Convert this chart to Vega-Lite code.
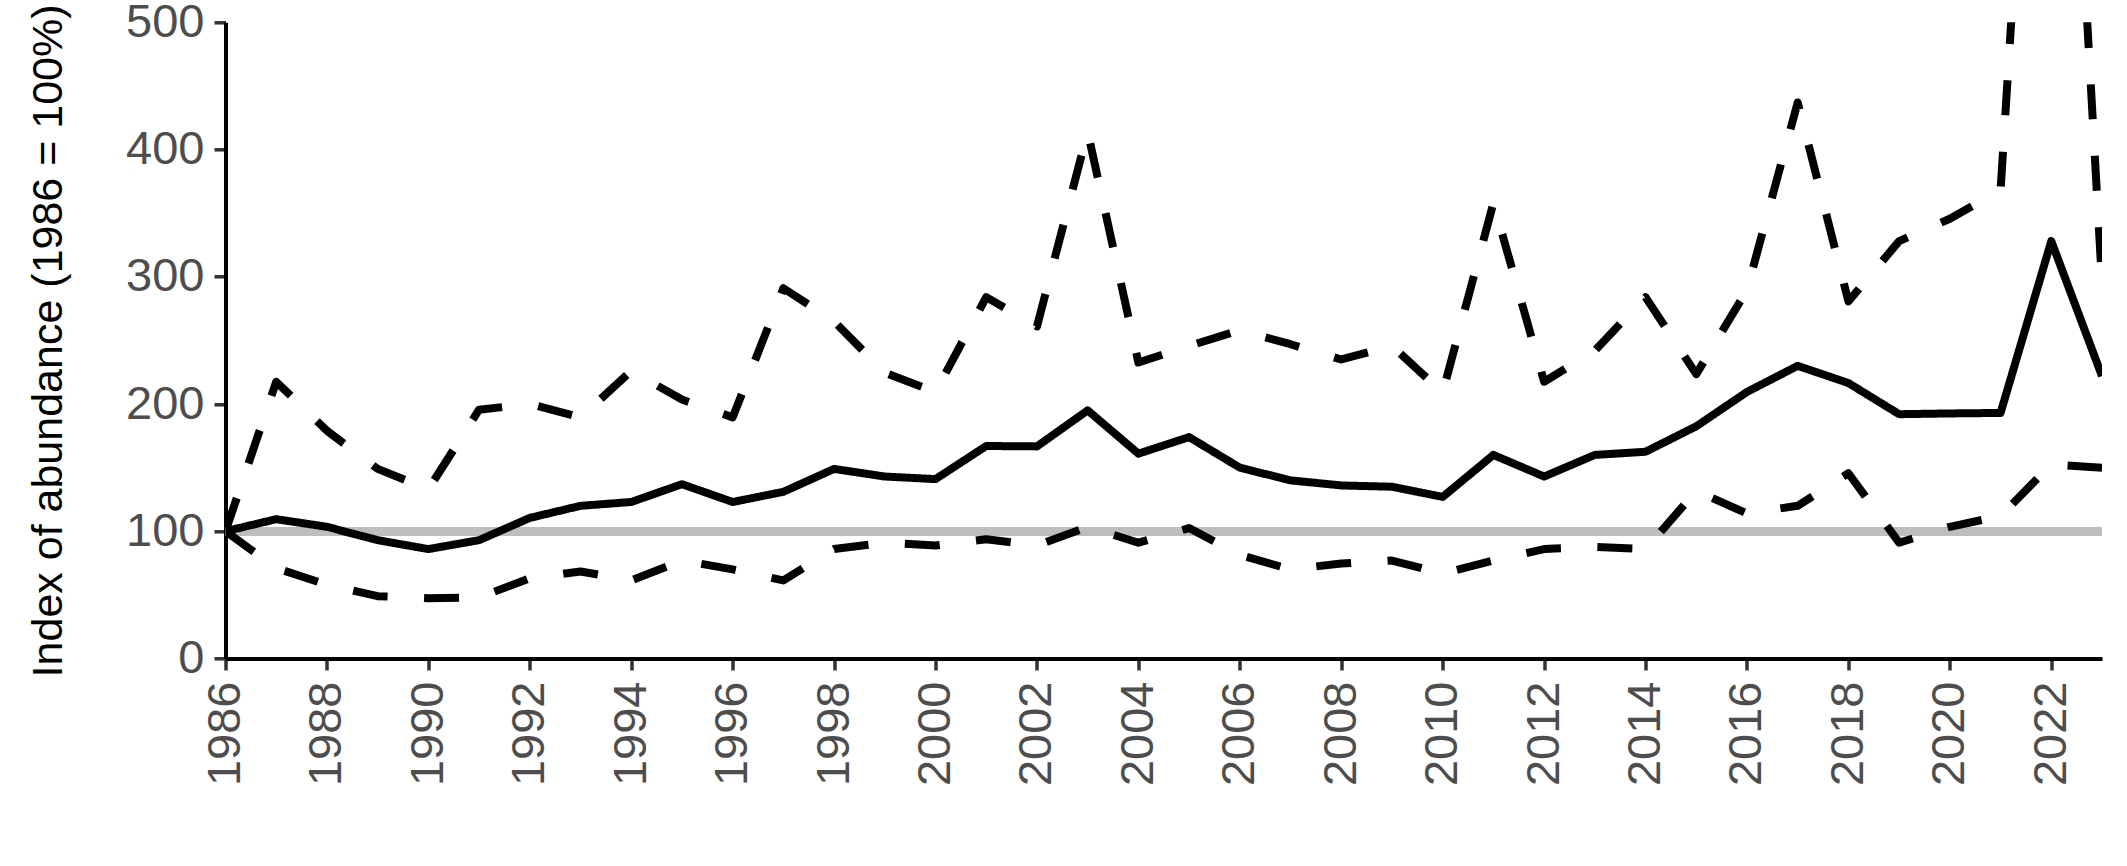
{
  "$schema": "https://vega.github.io/schema/vega-lite/v6.json",
  "width": 1876.5,
  "height": 636.2,
  "autosize": {"type": "none"},
  "padding": {"left": 225.5, "top": 22.3, "right": 25, "bottom": 207.5},
  "background": "white",
  "config": {"view": {"stroke": null}, "font": "Liberation Sans"},
  "data": {
    "values": [
      {"year": 1986, "index": 100, "lower": 100, "upper": 100},
      {"year": 1987, "index": 109.5, "lower": 71, "upper": 217.5},
      {"year": 1988, "index": 103.5, "lower": 58, "upper": 179},
      {"year": 1989, "index": 93, "lower": 49, "upper": 149},
      {"year": 1990, "index": 86, "lower": 47.4, "upper": 133},
      {"year": 1991, "index": 93, "lower": 48, "upper": 195.5},
      {"year": 1992, "index": 110.5, "lower": 63, "upper": 200},
      {"year": 1993, "index": 120, "lower": 68.4, "upper": 189.5},
      {"year": 1994, "index": 123, "lower": 61.4, "upper": 226},
      {"year": 1995, "index": 137, "lower": 77, "upper": 203.5},
      {"year": 1996, "index": 123, "lower": 70, "upper": 189.5},
      {"year": 1997, "index": 131, "lower": 61.4, "upper": 291},
      {"year": 1998, "index": 149, "lower": 86, "upper": 265},
      {"year": 1999, "index": 143, "lower": 91, "upper": 224.5},
      {"year": 2000, "index": 141, "lower": 88.8, "upper": 209.5},
      {"year": 2001, "index": 167, "lower": 93.7, "upper": 284},
      {"year": 2002, "index": 166.7, "lower": 88.8, "upper": 261},
      {"year": 2003, "index": 195, "lower": 103.5, "upper": 414},
      {"year": 2004, "index": 161, "lower": 91, "upper": 232.6},
      {"year": 2005, "index": 174, "lower": 102.5, "upper": 245.6},
      {"year": 2006, "index": 150, "lower": 81.4, "upper": 258},
      {"year": 2007, "index": 140, "lower": 70, "upper": 247},
      {"year": 2008, "index": 136, "lower": 74.7, "upper": 235},
      {"year": 2009, "index": 135, "lower": 77, "upper": 245.6},
      {"year": 2010, "index": 127, "lower": 66.7, "upper": 209},
      {"year": 2011, "index": 160, "lower": 77, "upper": 358},
      {"year": 2012, "index": 143, "lower": 86, "upper": 217.5},
      {"year": 2013, "index": 160, "lower": 87.7, "upper": 242},
      {"year": 2014, "index": 162.5, "lower": 86, "upper": 284},
      {"year": 2015, "index": 182.5, "lower": 131.6, "upper": 223.5},
      {"year": 2016, "index": 209.5, "lower": 114, "upper": 289.5},
      {"year": 2017, "index": 230, "lower": 120, "upper": 437},
      {"year": 2018, "index": 216.5, "lower": 145.6, "upper": 280.7},
      {"year": 2019, "index": 192, "lower": 91, "upper": 328},
      {"year": 2020, "index": 192.6, "lower": 103.5, "upper": 345.6},
      {"year": 2021, "index": 193, "lower": 112, "upper": 368},
      {"year": 2022, "index": 328, "lower": 152.6, "upper": 1000},
      {"year": 2023, "index": 222, "lower": 150, "upper": 295}
    ]
  },
  "layer": [
    {
      "mark": {"type": "rule", "color": "#BEBEBE", "strokeWidth": 8.3},
      "encoding": {
        "y": {"datum": 100, "type": "quantitative", "scale": {"domain": [0, 500], "nice": false, "zero": true}}
      }
    },
    {
      "transform": [{"fold": ["index", "lower", "upper"], "as": ["series", "value"]}],
      "mark": {"type": "line", "color": "black", "strokeWidth": 8, "strokeCap": "butt", "strokeJoin": "round", "clip": true},
      "encoding": {
        "x": {
          "field": "year",
          "type": "quantitative",
          "scale": {"domain": [1986, 2023], "nice": false, "zero": false},
          "axis": {
            "values": [1986, 1988, 1990, 1992, 1994, 1996, 1998, 2000, 2002, 2004, 2006, 2008, 2010, 2012, 2014, 2016, 2018, 2020, 2022],
            "format": "d",
            "labelAngle": 270,
            "labelFontSize": 47,
            "labelColor": "#4D4D4D",
            "labelPadding": 11,
            "labelFlush": false,
            "labelOverlap": false,
            "tickColor": "#333333",
            "tickWidth": 3.5,
            "tickSize": 11.5,
            "domainColor": "black",
            "domainWidth": 4,
            "grid": false,
            "title": null
          }
        },
        "y": {
          "field": "value",
          "type": "quantitative",
          "scale": {"domain": [0, 500], "nice": false, "zero": true},
          "axis": {
            "values": [0, 100, 200, 300, 400, 500],
            "labelFontSize": 47,
            "labelColor": "#4D4D4D",
            "labelPadding": 10,
            "labelFlush": false,
            "labelOverlap": false,
            "tickColor": "#333333",
            "tickWidth": 3.5,
            "tickSize": 11.5,
            "domainColor": "black",
            "domainWidth": 4,
            "grid": false,
            "title": "Index of abundance (1986 = 100%)",
            "titleFontSize": 43,
            "titleFontWeight": "normal",
            "titleColor": "black",
            "titlePadding": 55
          }
        },
        "detail": {"field": "series", "type": "nominal"},
        "strokeDash": {
          "field": "series",
          "type": "nominal",
          "scale": {"domain": ["index", "lower", "upper"], "range": [[1, 0], [35, 36.5], [35, 36.5]]},
          "legend": null
        }
      }
    }
  ]
}
